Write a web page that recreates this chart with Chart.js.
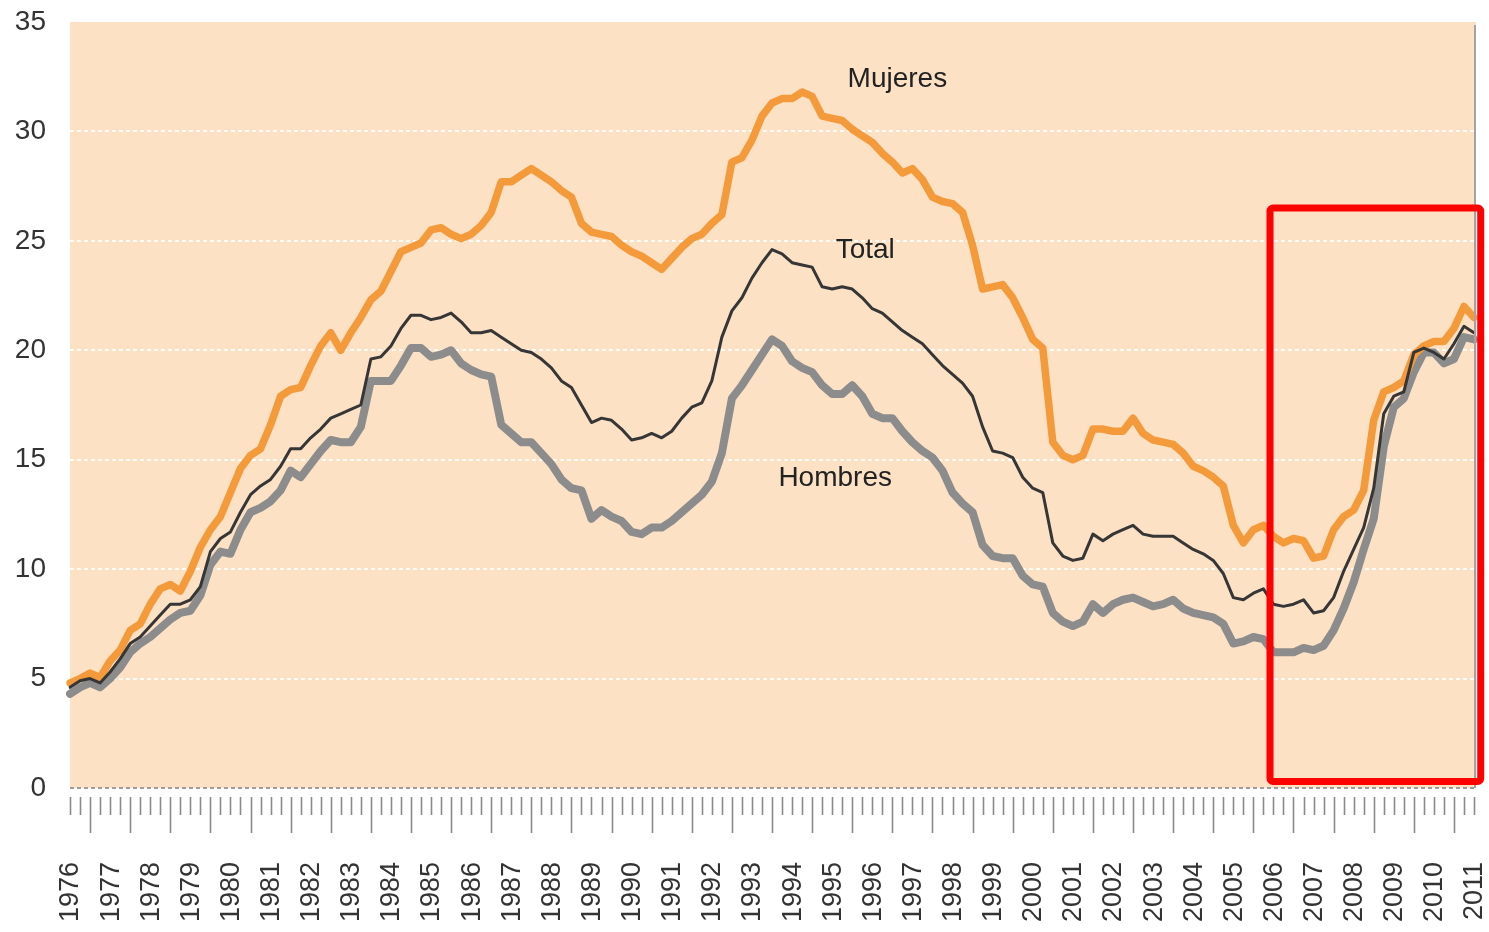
<!DOCTYPE html>
<html lang="es">
  <head>
    <meta charset="UTF-8" />
    <title>Tasa de paro por sexo, 1976-2011</title>
    <script src="https://cdn.jsdelivr.net/npm/chart.js"></script>
    <style>
      html,
      body {
        margin: 0;
        padding: 0;
        background-color: #fff;
      }
      #chartContainer {
        position: relative;
        width: 1489px;
        height: 932px;
      }
    </style>
  </head>
  <body>
    <div id="chartContainer">
      <canvas id="paroChart"></canvas>
    </div>

    <script>
      // Años del eje (una etiqueta por año, datos trimestrales)
      const years = [
        1976, 1977, 1978, 1979, 1980, 1981, 1982, 1983, 1984, 1985, 1986, 1987,
        1988, 1989, 1990, 1991, 1992, 1993, 1994, 1995, 1996, 1997, 1998, 1999,
        2000, 2001, 2002, 2003, 2004, 2005, 2006, 2007, 2008, 2009, 2010, 2011,
      ];
      const quarterNames = ["T1", "T2", "T3", "T4"];

      // Tasa de paro (%) por trimestre, 1976 T1 - 2011 T1
      const mujeres = [
        4.8, 5.0, 5.25, 5.05, 5.8, 6.3, 7.2, 7.5, 8.4, 9.1,
        9.3, 9.0, 9.9, 11.0, 11.8, 12.4, 13.5, 14.6, 15.2, 15.5,
        16.6, 17.9, 18.2, 18.3, 19.3, 20.2, 20.8, 20.0, 20.8, 21.5,
        22.3, 22.7, 23.6, 24.5, 24.7, 24.9, 25.5, 25.6, 25.3, 25.1,
        25.3, 25.7, 26.3, 27.7, 27.7, 28.0, 28.3, 28.0, 27.7, 27.3,
        27.0, 25.8, 25.4, 25.3, 25.2, 24.8, 24.5, 24.3, 24.0, 23.7,
        24.2, 24.7, 25.1, 25.3, 25.8, 26.2, 28.6, 28.8, 29.6, 30.7,
        31.3, 31.5, 31.5, 31.8, 31.6, 30.7, 30.6, 30.5, 30.1, 29.8,
        29.5, 29.0, 28.6, 28.1, 28.3, 27.8, 27.0, 26.8, 26.7, 26.3,
        24.8, 22.8, 22.9, 23.0, 22.4, 21.5, 20.5, 20.1, 15.8, 15.2,
        15.0, 15.2, 16.4, 16.4, 16.3, 16.3, 16.9, 16.2, 15.9, 15.8,
        15.7, 15.3, 14.7, 14.5, 14.2, 13.8, 12.0, 11.2, 11.8, 12.0,
        11.5, 11.2, 11.4, 11.3, 10.5, 10.6, 11.8, 12.4, 12.7, 13.6,
        16.8, 18.1, 18.3, 18.6, 19.8, 20.2, 20.4, 20.4, 21.0, 22.0,
        21.5,
      ];
      const total = [
        4.6, 4.9, 5.0, 4.8, 5.3, 5.9, 6.6, 6.9, 7.4, 7.9,
        8.4, 8.4, 8.6, 9.2, 10.8, 11.4, 11.7, 12.6, 13.4, 13.8,
        14.1, 14.7, 15.5, 15.5, 16.0, 16.4, 16.9, 17.1, 17.3, 17.5,
        19.6, 19.7, 20.2, 21.0, 21.6, 21.6, 21.4, 21.5, 21.7, 21.3,
        20.8, 20.8, 20.9, 20.6, 20.3, 20.0, 19.9, 19.6, 19.2, 18.6,
        18.3, 17.5, 16.7, 16.9, 16.8, 16.4, 15.9, 16.0, 16.2, 16.0,
        16.3, 16.9, 17.4, 17.6, 18.6, 20.6, 21.8, 22.4, 23.3, 24.0,
        24.6, 24.4, 24.0, 23.9, 23.8, 22.9, 22.8, 22.9, 22.8, 22.4,
        21.9, 21.7, 21.3, 20.9, 20.6, 20.3, 19.8, 19.3, 18.9, 18.5,
        17.9, 16.5, 15.4, 15.3, 15.1, 14.2, 13.7, 13.5, 11.2, 10.6,
        10.4, 10.5, 11.6, 11.3, 11.6, 11.8, 12.0, 11.6, 11.5, 11.5,
        11.5, 11.2, 10.9, 10.7, 10.4, 9.8, 8.7, 8.6, 8.9, 9.1,
        8.4, 8.3, 8.4, 8.6, 8.0, 8.1, 8.7, 9.9, 10.9, 11.9,
        13.7, 17.1, 17.9, 18.1, 19.9, 20.1, 19.9, 19.6, 20.3, 21.1,
        20.8,
      ];
      const hombres = [
        4.3, 4.6, 4.8, 4.6, 5.0, 5.5, 6.2, 6.6, 6.9, 7.3,
        7.7, 8.0, 8.1, 8.8, 10.2, 10.8, 10.7, 11.8, 12.6, 12.8,
        13.1, 13.6, 14.5, 14.2, 14.8, 15.4, 15.9, 15.8, 15.8, 16.5,
        18.6, 18.6, 18.6, 19.3, 20.1, 20.1, 19.7, 19.8, 20.0, 19.4,
        19.1, 18.9, 18.8, 16.6, 16.2, 15.8, 15.8, 15.3, 14.8, 14.1,
        13.7, 13.6, 12.3, 12.7, 12.4, 12.2, 11.7, 11.6, 11.9, 11.9,
        12.2, 12.6, 13.0, 13.4, 14.0, 15.3, 17.8, 18.4, 19.1, 19.8,
        20.5, 20.2, 19.5, 19.2, 19.0, 18.4, 18.0, 18.0, 18.4, 17.9,
        17.1, 16.9, 16.9, 16.3, 15.8, 15.4, 15.1, 14.5, 13.5, 13.0,
        12.6, 11.1, 10.6, 10.5, 10.5, 9.7, 9.3, 9.2, 8.0, 7.6,
        7.4, 7.6, 8.4, 8.0, 8.4, 8.6, 8.7, 8.5, 8.3, 8.4,
        8.6, 8.2, 8.0, 7.9, 7.8, 7.5, 6.6, 6.7, 6.9, 6.8,
        6.2, 6.2, 6.2, 6.4, 6.3, 6.5, 7.2, 8.2, 9.4, 10.9,
        12.3, 15.6, 17.4, 17.8, 19.0, 19.9, 19.9, 19.4, 19.6, 20.6,
        20.5,
      ];

      // Etiquetas trimestrales "1976 T1" ... "2011 T1"
      const quarters = [];
      years.forEach((y) => quarterNames.forEach((q) => quarters.push(y + " " + q)));
      const labels = quarters.slice(0, mujeres.length);

      const yTicks = [0, 5, 10, 15, 20, 25, 30, 35];

      // Rótulos de las series (posición en unidades de datos: trimestre, %)
      const seriesNotes = [
        { text: "Mujeres", at: 82.5, value: 32.4 },
        { text: "Total", at: 79.3, value: 24.55 },
        { text: "Hombres", at: 76.3, value: 14.15 },
      ];

      // Recuadro que destaca la crisis de 2008 (trimestres / %)
      const highlight = { from: 119.66, to: 140.67, top: 26.5, bottom: 0.3 };

      const FONT = '"Liberation Sans", Arial, Helvetica, sans-serif';

      const decor = {
        id: "decor",
        beforeDraw(chart) {
          const { ctx, chartArea: a } = chart;
          ctx.save();
          ctx.fillStyle = "#fce1c5";
          ctx.fillRect(a.left, a.top, a.right - a.left + 2, a.bottom - a.top);
          ctx.restore();
        },
        afterDraw(chart) {
          const { ctx, chartArea: a } = chart;
          const x = chart.scales.x;
          const y = chart.scales.y;
          ctx.save();

          // borde derecho del área
          ctx.strokeStyle = "#a3a3a3";
          ctx.lineWidth = 2;
          ctx.beginPath();
          ctx.moveTo(a.right + 1, a.top + 3);
          ctx.lineTo(a.right + 1, a.bottom);
          ctx.stroke();

          // marcas trimestrales bajo el eje
          ctx.strokeStyle = "#8a8a8a";
          ctx.lineWidth = 1.6;
          labels.forEach((_, i) => {
            const px = Math.round(x.getPixelForValue(i)) + 0.5;
            const long = i % 4 === 2;
            ctx.beginPath();
            ctx.moveTo(px, a.bottom + 9);
            ctx.lineTo(px, a.bottom + (long ? 45 : 27));
            ctx.stroke();
          });

          // años en vertical
          ctx.fillStyle = "#333";
          ctx.font = "27px " + FONT;
          ctx.textAlign = "right";
          ctx.textBaseline = "middle";
          years.forEach((yr, k) => {
            const i = k * 4;
            if (i >= labels.length) return;
            ctx.save();
            ctx.translate(x.getPixelForValue(i) + 1, a.bottom + 74);
            ctx.rotate(-Math.PI / 2);
            ctx.fillText(String(yr), 0, 0);
            ctx.restore();
          });

          // rótulos de las series
          ctx.fillStyle = "#222";
          ctx.font = "28px " + FONT;
          ctx.textAlign = "center";
          seriesNotes.forEach((n) => {
            ctx.fillText(n.text, x.getPixelForValue(n.at), y.getPixelForValue(n.value));
          });

          // recuadro rojo
          const l = x.getPixelForValue(highlight.from);
          const r = x.getPixelForValue(highlight.to);
          const t = y.getPixelForValue(highlight.top);
          const b = y.getPixelForValue(highlight.bottom);
          ctx.strokeStyle = "#ff0000";
          ctx.lineWidth = 7;
          ctx.lineJoin = "round";
          ctx.beginPath();
          ctx.roundRect(l, t, r - l, b - t, 3);
          ctx.stroke();

          ctx.restore();
        },
      };

      const ctx = document.getElementById("paroChart").getContext("2d");
      new Chart(ctx, {
        type: "line",
        data: {
          labels: labels,
          datasets: [
            {
              label: "Total",
              data: total,
              borderColor: "#363636",
              borderWidth: 3,
            },
            {
              label: "Mujeres",
              data: mujeres,
              borderColor: "#f49a3a",
              borderWidth: 7.5,
            },
            {
              label: "Hombres",
              data: hombres,
              borderColor: "#8c8c8c",
              borderWidth: 8,
            },
          ],
        },
        options: {
          responsive: true,
          maintainAspectRatio: false,
          animation: false,
          layout: { padding: { top: 22, right: 15, left: 0, bottom: 0 } },
          elements: {
            point: { radius: 0, hoverRadius: 0 },
            line: {
              tension: 0,
              borderJoinStyle: "round",
              borderCapStyle: "round",
              fill: false,
            },
          },
          scales: {
            x: {
              offset: false,
              ticks: { display: false },
              grid: { display: false },
              border: { display: false },
              afterFit(scale) {
                scale.height = 144;
              },
            },
            y: {
              min: 0,
              max: 35,
              afterBuildTicks(scale) {
                scale.ticks = yTicks.map((v) => ({ value: v }));
              },
              ticks: {
                padding: 24,
                color: "#333",
                font: { family: FONT, size: 28 },
              },
              grid: {
                drawTicks: false,
                lineWidth: 2,
                color(c) {
                  if (c.tick.value === 0) return "#9c9c9c";
                  if (c.tick.value === 35) return "rgba(0,0,0,0)";
                  return "rgba(255,255,255,0.85)";
                },
              },
              border: { display: false, dash: [4, 3] },
              afterFit(scale) {
                scale.width = 70;
                scale.paddingTop = 0;
                scale.paddingBottom = 0;
              },
            },
          },
          plugins: {
            legend: { display: false },
            tooltip: { enabled: false },
          },
        },
        plugins: [decor],
      });
    </script>
  </body>
</html>
